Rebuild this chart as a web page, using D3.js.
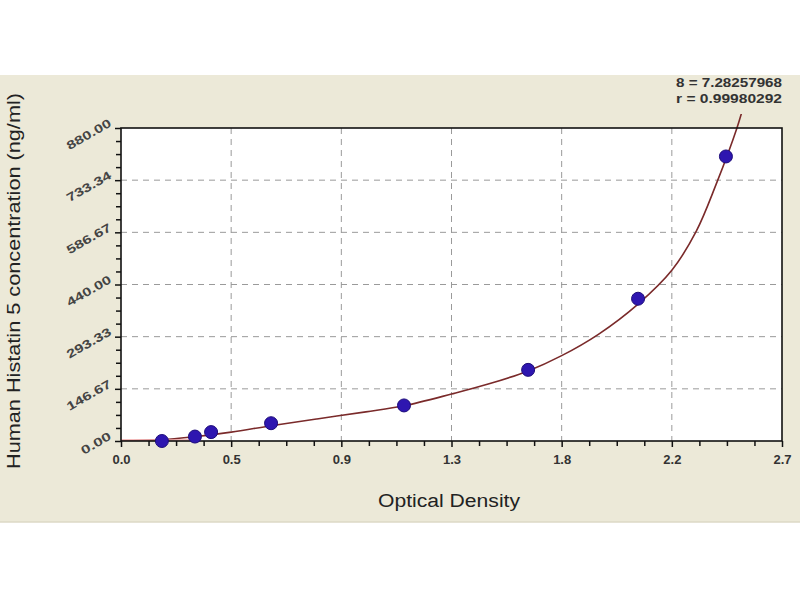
<!DOCTYPE html>
<html><head><meta charset="utf-8">
<script src="https://cdn.jsdelivr.net/npm/d3@7"></script>
<style>body{margin:0;background:#fff}svg{display:block}</style>
</head><body>
<script>
// Data
const odValues   = [0.167, 0.302, 0.368, 0.613, 1.156, 1.663, 2.112, 2.471];
const concValues = [0, 12.5, 25, 50, 100, 200, 400, 800];
const curveOD    = [0, 0.15, 0.3, 0.45, 0.613, 0.8, 1.0, 1.156, 1.35, 1.5, 1.663, 1.8, 1.95, 2.112, 2.25, 2.35, 2.43, 2.516, 2.55];
const curveConc  = [0, 3, 12, 25, 43, 62, 82, 99, 132, 160, 197, 240, 300, 385, 480, 590, 720, 880, 960];
const xTickVals  = [0, 0.45, 0.9, 1.35, 1.8, 2.25, 2.7];
const xTickLabels= ["0.0","0.5","0.9","1.3","1.8","2.2","2.7"];
const yTickVals  = [0, 146.67, 293.33, 440, 586.67, 733.34, 880];
const yTickLabels= ["0.00","146.67","293.33","440.00","586.67","733.34","880.00"];
const statLines  = ["8 = 7.28257968", "r = 0.99980292"];

const W = 800, H = 600;
const L = 121, R = 782, T = 128, B = 441;
const FONT = "Arial, 'Liberation Sans', sans-serif";
const svg = d3.select("body").append("svg").attr("width", W).attr("height", H);

svg.append("rect").attr("x",0).attr("y",0).attr("width",W).attr("height",H).attr("fill","#fff");
svg.append("rect").attr("x",0).attr("y",75).attr("width",W).attr("height",447).attr("fill","#ECE9D8");
svg.append("line").attr("x1",0).attr("x2",W).attr("y1",522).attr("y2",522).attr("stroke","#dcd9c6").attr("stroke-width",1.5);

const x = d3.scaleLinear().domain([0, 2.7]).range([L, R]);
const y = d3.scaleLinear().domain([0, 880]).range([B, T]);

svg.append("rect").attr("x",L).attr("y",T).attr("width",R-L).attr("height",B-T).attr("fill","#fff");

// grid
const g = svg.append("g");
xTickVals.slice(1, -1).forEach(v => {
  g.append("line").attr("x1",x(v)).attr("x2",x(v)).attr("y1",T).attr("y2",B)
    .attr("stroke","#9a9a9a").attr("stroke-dasharray","6,5").attr("stroke-width",1);
});
yTickVals.slice(1, -1).forEach(v => {
  g.append("line").attr("x1",L).attr("x2",R).attr("y1",y(v)).attr("y2",y(v))
    .attr("stroke","#9a9a9a").attr("stroke-dasharray","6,5").attr("stroke-width",1);
});

// minor ticks
const minorX = [], minorY = [];
for (let i = 0; i < xTickVals.length - 1; i++) for (let k = 1; k < 4; k++) minorX.push(xTickVals[i] + (xTickVals[i+1]-xTickVals[i])*k/4);
for (let i = 0; i < yTickVals.length - 1; i++) for (let k = 1; k < 4; k++) minorY.push(yTickVals[i] + (yTickVals[i+1]-yTickVals[i])*k/4);

const xAxis = svg.append("g").attr("transform",`translate(0,${B})`)
  .call(d3.axisBottom(x).tickValues(xTickVals).tickFormat((d,i)=>xTickLabels[i]).tickSize(6).tickPadding(8));
const xMinor = svg.append("g").attr("transform",`translate(0,${B})`)
  .call(d3.axisBottom(x).tickValues(minorX).tickFormat("").tickSize(5));
const yAxis = svg.append("g").attr("transform",`translate(${L},0)`)
  .call(d3.axisLeft(y).tickValues(yTickVals).tickFormat((d,i)=>yTickLabels[i]).tickSize(6).tickPadding(4));
const yMinor = svg.append("g").attr("transform",`translate(${L},0)`)
  .call(d3.axisLeft(y).tickValues(minorY).tickFormat("").tickSize(5));
[xAxis,xMinor,yAxis,yMinor].forEach(a => {
  a.select(".domain").remove();
  a.selectAll(".tick line").attr("stroke","#111").attr("stroke-width",1.5);
});
xAxis.selectAll(".tick text").attr("font-family",FONT)
  .attr("font-size",13).attr("font-weight","bold").attr("fill","#333");
yAxis.selectAll(".tick text").attr("font-family",FONT)
  .attr("font-size",12).attr("font-weight","bold").attr("fill","#444")
  .attr("text-anchor","end").attr("dy","0.2em")
  .attr("transform","translate(-10,-5) rotate(-30)").attr("x",0)
  .attr("textLength", (d,i)=> yTickLabels[i].length * 8.2).attr("lengthAdjust","spacingAndGlyphs");

// curve (clipped)
svg.append("clipPath").attr("id","clip").append("rect").attr("x",L).attr("y",T-14).attr("width",R-L).attr("height",B-T+14);
svg.append("path").attr("clip-path","url(#clip)")
  .datum(curveOD.map((d,i)=>[d, curveConc[i]]))
  .attr("d", d3.line().x(d=>x(d[0])).y(d=>y(d[1])).curve(d3.curveCatmullRom))
  .attr("fill","none").attr("stroke","#7a2a2a").attr("stroke-width",1.6);
// pinkish low segment
svg.append("line").attr("x1",x(0)).attr("x2",x(0.3)).attr("y1",B-1).attr("y2",B-1)
  .attr("stroke","#f0a0a0").attr("stroke-width",2).attr("opacity",0.7);

// border
svg.append("rect").attr("x",L).attr("y",T).attr("width",R-L).attr("height",B-T)
  .attr("fill","none").attr("stroke","#111").attr("stroke-width",1.6);

// points
svg.append("g").selectAll("circle").data(odValues).join("circle")
  .attr("cx",(d)=>x(d)).attr("cy",(d,i)=>y(concValues[i])).attr("r",6.5)
  .attr("fill","#2e16b0").attr("stroke","#1d0c7a").attr("stroke-width",1);

// stats
svg.append("g").selectAll("text").data(statLines).join("text")
  .attr("x",R).attr("y",(d,i)=>87+i*16).attr("text-anchor","end")
  .attr("font-family",FONT).attr("font-size",12.5).attr("font-weight","bold")
  .attr("fill","#333").attr("textLength",106).attr("lengthAdjust","spacingAndGlyphs").text(d=>d);

// axis titles
svg.append("text").attr("x",449).attr("y",507).attr("text-anchor","middle")
  .attr("font-family",FONT).attr("font-size",18).attr("fill","#222")
  .attr("textLength",142).attr("lengthAdjust","spacingAndGlyphs")
  .text("Optical Density");
svg.append("text").attr("transform","translate(20,281) rotate(-90)").attr("text-anchor","middle")
  .attr("font-family",FONT).attr("font-size",18).attr("fill","#222")
  .attr("textLength",376).attr("lengthAdjust","spacingAndGlyphs")
  .text("Human Histatin 5 concentration (ng/ml)");
</script>
</body></html>
